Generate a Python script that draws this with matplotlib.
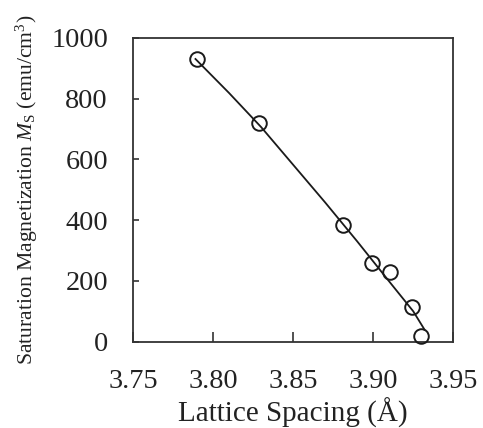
import matplotlib
matplotlib.use("Agg")
import matplotlib.pyplot as plt

# Measured data points
lattice = [3.7899, 3.8284, 3.8814, 3.8991, 3.9105, 3.9241, 3.9297]
ms = [929, 718, 383, 258, 230, 115, 19]

# Fitted curve
fit_x = [3.789, 3.81, 3.83, 3.85, 3.87, 3.89, 3.91, 3.925, 3.932]
fit_y = [930, 818, 706, 582, 458, 330, 198, 100, 40]

x_ticks = [3.75, 3.80, 3.85, 3.90, 3.95]
x_ticklabels = ["3.75", "3.80", "3.85", "3.90", "3.95"]
y_ticks = [0, 200, 400, 600, 800, 1000]

plt.rcParams['font.family'] = ['Liberation Serif', 'DejaVu Serif']
plt.rcParams['mathtext.fontset'] = 'custom'
plt.rcParams['mathtext.rm'] = 'Liberation Serif'
plt.rcParams['mathtext.it'] = 'Liberation Serif:italic'

fig = plt.figure(figsize=(4.83, 4.28), dpi=100)
ax = fig.add_axes([133/483, 1 - 341.7/428, (453.3 - 133)/483, (341.7 - 37.7)/428])

ax.plot(fit_x, fit_y, color='#1a1a1a', lw=1.3, zorder=2)
ax.plot(lattice, ms, 'o', ms=10.5, mfc='none', mec='#1a1a1a', mew=1.4, zorder=3, clip_on=False)

ax.set_xlim(3.75, 3.95)
ax.set_ylim(0, 1000)
ax.set_xticks(x_ticks)
ax.set_xticklabels(x_ticklabels)
ax.set_yticks(y_ticks)

for s in ax.spines.values():
    s.set_linewidth(1.3)
    s.set_color('#333333')

ax.tick_params(axis='x', direction='in', length=7, width=1.2, pad=20, labelsize=20.3, colors='#333333', labelcolor='#222222')
ax.tick_params(axis='y', direction='in', length=4.5, width=1.2, pad=18, labelsize=20.3, colors='#333333', labelcolor='#222222')

ax.set_xlabel('Lattice Spacing (Å)', fontsize=21, color='#222222', labelpad=2)
ax.set_ylabel(r'Saturation Magnetization $M_\mathrm{S}$ (emu/cm$^3$)', fontsize=15.6, color='#222222', labelpad=8)

fig.savefig('out.png', dpi=100)
